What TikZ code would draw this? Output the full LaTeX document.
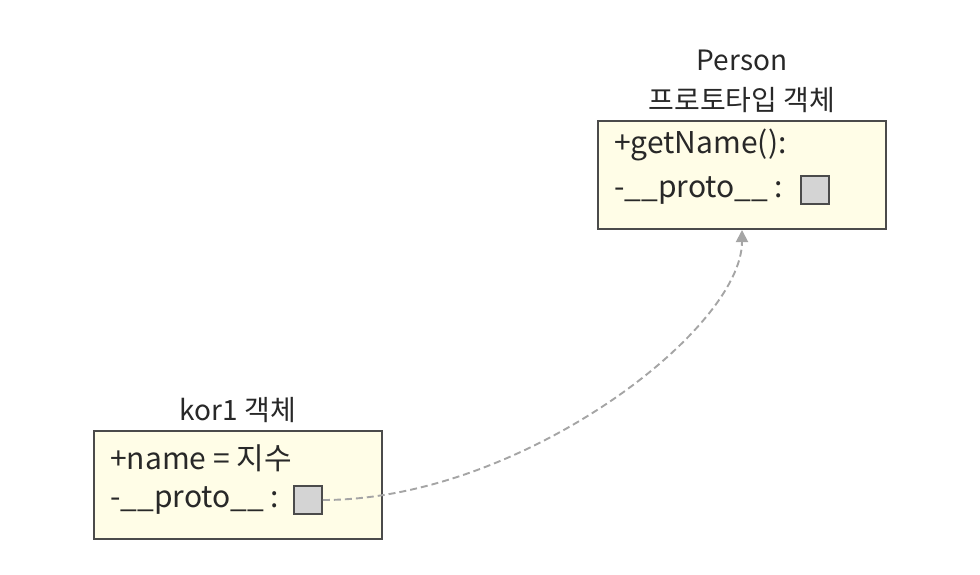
\documentclass[tikz,border=0pt]{standalone}
\usepackage{fontspec}
\setmainfont{Noto Sans CJK KR}
\usetikzlibrary{arrows.meta}
\definecolor{objfill}{RGB}{255,253,231}
\definecolor{objline}{RGB}{75,75,75}
\definecolor{slotfill}{RGB}{212,212,212}
\definecolor{linkgray}{RGB}{165,165,165}
\definecolor{txt}{RGB}{40,40,40}
\tikzset{
  objbox/.style={draw=objline,fill=objfill,line width=2pt,minimum width=288pt,minimum height=108pt,inner sep=0pt},
  slot/.style={draw=objline,fill=slotfill,line width=1.8pt,minimum size=28pt,inner sep=0pt},
  field/.style={anchor=west,inner sep=0pt,text=txt,font=\fontsize{30}{30}\selectfont},
  caption/.style={inner sep=0pt,text=txt,font=\fontsize{28}{28}\selectfont},
  link/.style={draw=linkgray,line width=1.9pt,dash pattern=on 7pt off 4pt,-{Triangle[length=12pt,width=12pt,fill=linkgray]}}
}
\begin{document}
\begin{tikzpicture}[x=1pt,y=-1pt]
\useasboundingbox (0,0) rectangle (980,574);
% Person prototype object
\node[caption] (pname) at (742,60) {Person};
\node[caption] (ptitle) at (742,100) {프로토타입 객체};
\node[objbox] (proto) at (742,175) {};
\node[field] (getname) at (614,145) {+getName():};
\node[field] (pproto) at (614,190) {-\_\_proto\_\_ :};
\node[slot] (pslot) at (815,190) {};
% kor1 object
\node[caption] (ktitle) at (238,410) {kor1 객체};
\node[objbox] (kor) at (237.5,485) {};
\node[field] (name) at (110,458) {+name = 지수};
\node[field] (kproto) at (110,500) {-\_\_proto\_\_ :};
\node[slot] (kslot) at (308,500) {};
\draw[link] (kslot.east) .. controls (520,500) and (742,330) .. (proto.south);
\end{tikzpicture}
\end{document}
